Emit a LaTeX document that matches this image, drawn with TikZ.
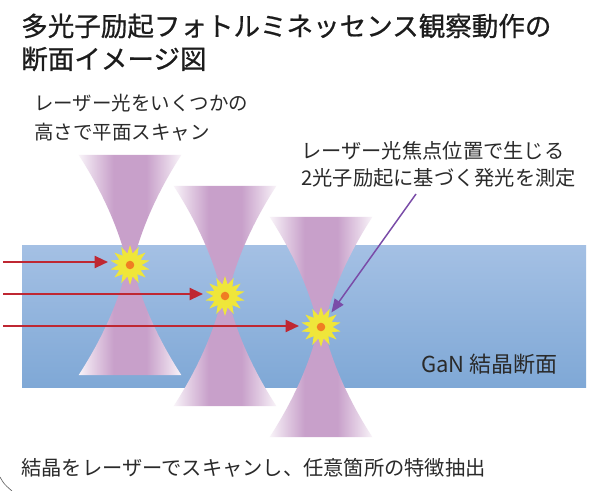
\documentclass[tikz,border=0pt]{standalone}
\usepackage{fontspec}
\newfontfamily\jp{Noto Sans CJK JP}
\newfontfamily\jptitle[FakeBold=0.7]{Noto Sans CJK JP}
\usetikzlibrary{arrows.meta,shapes.geometric}

\definecolor{ink}{HTML}{2A2A2A}
\definecolor{titleink}{HTML}{1C1C1C}
\definecolor{beam}{HTML}{C8A0CA}
\colorlet{beamrim}{beam!12!white}
\colorlet{beamlight}{beam!55!white}
\definecolor{gantop}{HTML}{A4C0E4}
\definecolor{ganbot}{HTML}{7FA8D6}
\definecolor{staryellow}{HTML}{EFE63A}
\definecolor{dotorange}{HTML}{F07D23}
\definecolor{scanred}{HTML}{BF2732}
\definecolor{pointer}{HTML}{7A4CA8}

% laser cone: pale at the rim, full colour along the axis
\pgfdeclarehorizontalshading{beamfade}{100bp}{%
  color(0bp)=(beamrim); color(25bp)=(beamrim); color(33bp)=(beamlight);
  color(42bp)=(beam); color(58bp)=(beam); color(67bp)=(beamlight);
  color(75bp)=(beamrim); color(100bp)=(beamrim)}

\tikzset{
  lbl/.style={inner sep=0pt, anchor=west, text=ink,
    font=\jp\fontsize{15.2pt}{18pt}\selectfont},
  smalllbl/.style={lbl, font=\jp\fontsize{14.6pt}{18pt}\selectfont},
  titlelbl/.style={inner sep=0pt, anchor=west, text=titleink,
    font=\jptitle\fontsize{19.9pt}{24pt}\selectfont},
  ganlbl/.style={lbl, font=\jp\fontsize{16.5pt}{20pt}\selectfont},
  burst/.style={star, star points=14, star point ratio=1.7,
    minimum size=30pt, inner sep=0pt, fill=staryellow, draw=none},
  scanarrow/.style={draw=scanred, line width=1.5pt,
    -{Triangle[length=10pt,width=9pt]}, shorten >=16.5pt},
  pointarrow/.style={draw=pointer, line width=1.1pt,
    -{Triangle[length=10pt,width=8pt]}, shorten >=13.4pt},
  frameline/.style={draw=black!60, line width=0.5pt}
}

\begin{document}
\begin{tikzpicture}[x=0.75pt, y=-0.75pt]
  \fill[white] (0,0) rectangle (595,491);
  \useasboundingbox (0,0) rectangle (595,491);

  % GaN crystal cross-section
  \shade[top color=gantop, bottom color=ganbot] (22,246) rectangle (586,387);

  % focused laser beams at three depths
  \foreach \cx/\cy in {130/265, 225/296, 321/327} {
    \begin{scope}[shift={(\cx,\cy)}]
      \shade[shading=beamfade]
        (-51.3,-110) -- (51.3,-110)
        .. controls (27.6,-73.3) and (11.2,-36.7) .. (2.5,0)
        .. controls (11.2,36.7) and (27.6,73.3) .. (51.3,110)
        -- (-51.3,110)
        .. controls (-27.6,73.3) and (-11.2,36.7) .. (-2.5,0)
        .. controls (-11.2,-36.7) and (-27.6,-73.3) .. (-51.3,-110)
        -- cycle;
    \end{scope}
  }

  % luminescence spots at the foci
  \node[burst] (f1) at (130,265) {};
  \node[burst] (f2) at (225,296) {};
  \node[burst] (f3) at (321,327) {};
  \foreach \f in {f1,f2,f3} \fill[dotorange] (\f) circle[radius=3.2pt];

  % scan direction arrows
  \coordinate (r1) at (3,262);
  \coordinate (r2) at (3,294);
  \coordinate (r3) at (3,326);
  \draw[scanarrow] (r1) -- (r1 -| f1);
  \draw[scanarrow] (r2) -- (r2 -| f2);
  \draw[scanarrow] (r3) -- (r3 -| f3);

  % pointer to the measured spot
  \coordinate (p0) at (416,194);
  \draw[pointarrow] (p0) -- (f3.center);

  % texts
  \node[titlelbl] (t1) at (21,26) {多光子励起フォトルミネッセンス観察動作の};
  \node[titlelbl] (t2) at (21,59) {断面イメージ図};
  \node[smalllbl] (a1) at (34,103) {レーザー光をいくつかの};
  \node[smalllbl] (a2) at (34,132) {高さで平面スキャン};
  \node[lbl] (b1) at (301,151) {レーザー光焦点位置で生じる};
  \node[lbl] (b2) at (301,178) {2光子励起に基づく発光を測定};
  \node[ganlbl] (gan) at (421,364) {GaN 結晶断面};
  \node[lbl] (cap) at (21,468) {結晶をレーザーでスキャンし、任意箇所の特徴抽出};

  % corner of the surrounding frame
  \draw[frameline] (0,477) .. controls (4,484) .. (12,491);
\end{tikzpicture}
\end{document}
